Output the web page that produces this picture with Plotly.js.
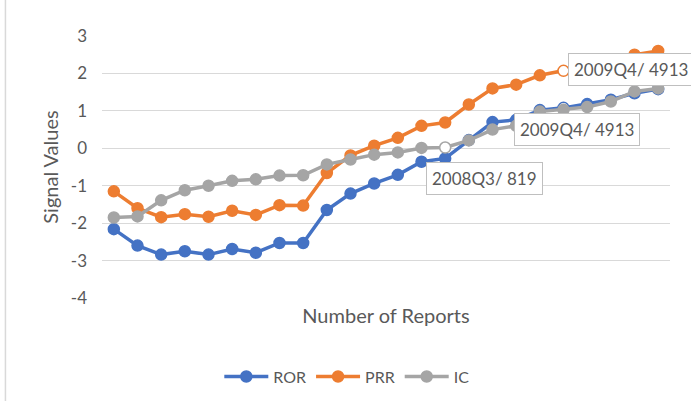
<!DOCTYPE html>
<html>
<head>
<meta charset="utf-8">
<script src="https://cdn.plot.ly/plotly-3.0.1.min.js"></script>
<style>html,body{margin:0;padding:0;background:#fff;}#chart{width:691px;height:401px;}</style>
</head>
<body>
<div id="chart"></div>
<script>
const categories = ["1","2","3","4","5","6","7","8","9","10","11","12","13","14","15","16","17","18","19","20","21","22","23","24"];
const ror = [-2.16,-2.6,-2.84,-2.75,-2.84,-2.69,-2.79,-2.53,-2.53,-1.65,-1.21,-0.94,-0.71,-0.36,-0.27,0.22,0.7,0.76,1.02,1.08,1.18,1.3,1.47,1.58];
const prr = [-1.15,-1.6,-1.84,-1.76,-1.83,-1.67,-1.78,-1.52,-1.53,-0.66,-0.19,0.07,0.28,0.6,0.69,1.17,1.6,1.7,1.95,2.07,2.2,2.35,2.5,2.6];
const ic  = [-1.85,-1.82,-1.39,-1.12,-1.0,-0.87,-0.83,-0.73,-0.72,-0.43,-0.3,-0.17,-0.11,0.01,0.02,0.21,0.5,0.6,0.98,1.03,1.1,1.25,1.52,1.6];
const seriesNames = ["ROR","PRR","IC"];
const seriesColors = ["#4472C4","#ED7D31","#A5A5A5"];
const hollowIndex = [19, 19, 14];
const labelTexts = ["2009Q4/ 4913","2009Q4/ 4913","2008Q3/ 819"];
const yTicks = [3,2,1,0,-1,-2,-3,-4];
const yTickText = ["3","2","1","0","-1","-2","-3","-4"];

const allSeries = [ror, prr, ic];
const traces = allSeries.map((vals, s) => ({
  type: 'scatter', mode: 'lines+markers', name: seriesNames[s],
  x: categories, y: vals,
  line: {color: seriesColors[s], width: 3.5},
  marker: {size: 11,
    color: vals.map((v, i) => i === hollowIndex[s] ? '#ffffff' : seriesColors[s]),
    line: {color: seriesColors[s], width: 1.5}}
}));

const fam = 'Lato, Open Sans, sans-serif';
const font = {family: fam, color: '#595959', size: 17};
const ann = (txt, xi, yv) => ({
  text: txt, xref: 'x', yref: 'y', x: xi, y: yv, showarrow: false,
  xanchor: 'left', yanchor: 'middle', bgcolor: '#ffffff', bordercolor: '#bfbfbf',
  borderwidth: 1, borderpad: 5, font: {family: fam, color: '#595959', size: 17}
});

const layout = {
  width: 691, height: 401,
  margin: {l: 102, r: 21, t: 36, b: 103, autoexpand: false},
  paper_bgcolor: '#ffffff', plot_bgcolor: '#ffffff',
  font: font,
  showlegend: true,
  legend: {orientation: 'h', x: 0.431, xanchor: 'center', y: -0.30, yanchor: 'middle',
           font: {family: fam, size: 16, color: '#595959'}, itemwidth: 44, traceorder: 'normal'},
  xaxis: {type: 'category', range: [-0.5, 23.5], showticklabels: false, showgrid: false,
          zeroline: false, showline: false, ticks: '',
          title: {text: 'Number of Reports', font: {family: fam, size: 20, color: '#595959'}, standoff: 10}},
  yaxis: {range: [-4, 3], tickvals: yTicks, ticktext: yTickText, showgrid: true, gridcolor: '#d9d9d9', gridwidth: 1,
          zeroline: false, showline: false, ticks: '', ticklabelstandoff: 14,
          tickfont: {family: fam, size: 17, color: '#595959'},
          title: {text: 'Signal Values', font: {family: fam, size: 20, color: '#595959'}, standoff: 6}},
  annotations: [
    ann(labelTexts[0], 19.2, 2.1),
    ann(labelTexts[1], 16.9, 0.5),
    ann(labelTexts[2], 13.2, -0.8)
  ],
  shapes: [
    {type: 'line', xref: 'paper', yref: 'paper', x0: -0.17, x1: -0.17, y0: -0.40, y1: 1.14,
     line: {color: '#d9d9d9', width: 1.5}}
  ]
};

Plotly.newPlot('chart', traces, layout, {displayModeBar: false, staticPlot: true});
</script>
</body>
</html>
